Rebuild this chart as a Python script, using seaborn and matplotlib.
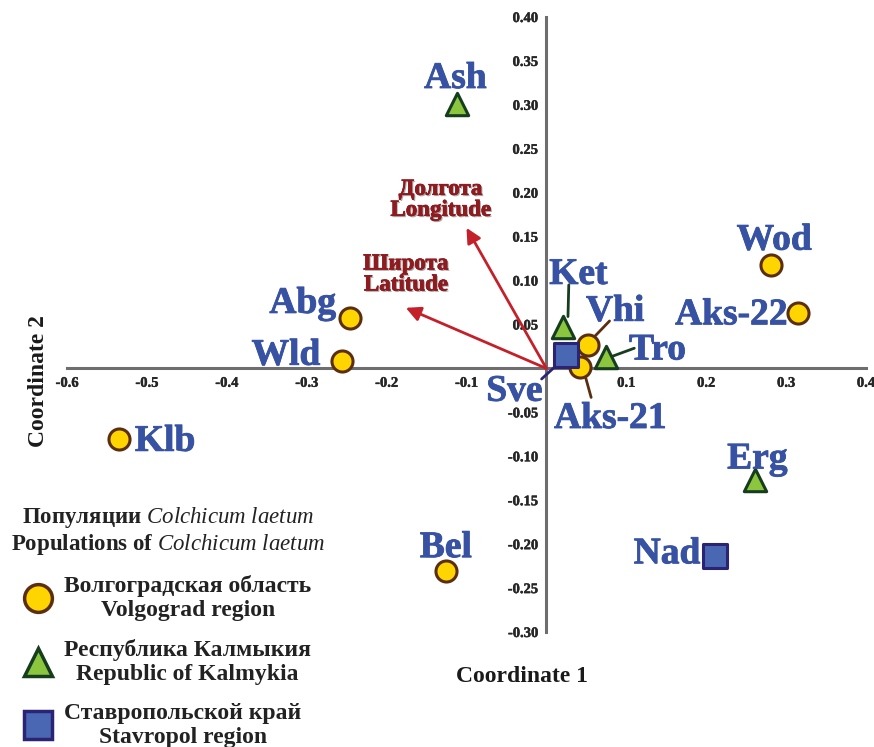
import matplotlib
matplotlib.use("Agg")
import matplotlib.pyplot as plt
import matplotlib.patheffects as pe
import seaborn as sns
import pandas as pd
from matplotlib.lines import Line2D

# ---------------- data ----------------
names = ["Ash", "Abg", "Wld", "Klb", "Bel", "Sve", "Ket", "Vhi", "Tro",
         "Aks-21", "Wod", "Aks-22", "Erg", "Nad"]
coord1 = [-0.112, -0.246, -0.256, -0.535, -0.126, 0.025, 0.021, 0.052, 0.074,
          0.042, 0.281, 0.315, 0.261, 0.211]
coord2 = [0.301, 0.057, 0.009, -0.080, -0.231, 0.015, 0.047, 0.027, 0.013,
          0.002, 0.118, 0.063, -0.127, -0.214]
region = ["Kalmykia", "Volgograd", "Volgograd", "Volgograd", "Volgograd",
          "Stavropol", "Kalmykia", "Volgograd", "Kalmykia", "Volgograd",
          "Volgograd", "Volgograd", "Kalmykia", "Stavropol"]
region_labels = {
    "Volgograd": "Волгоградская область\nVolgograd region",
    "Kalmykia": "Республика Калмыкия\nRepublic of Kalmykia",
    "Stavropol": "Ставропольской край\nStavropol region",
}
vector_names = ["Долгота\nLongitude", "Широта\nLatitude"]
vector_c1 = [-0.100, -0.176]
vector_c2 = [0.160, 0.069]
x_ticks = [-0.6, -0.5, -0.4, -0.3, -0.2, -0.1, 0.1, 0.2, 0.3, 0.4]
y_ticks = [-0.30, -0.25, -0.20, -0.15, -0.10, -0.05, 0.05, 0.10, 0.15, 0.20,
           0.25, 0.30, 0.35, 0.40]

df = pd.DataFrame({"name": names, "c1": coord1, "c2": coord2, "region": region})

# ---------------- style ----------------
sns.set_theme(style="white")
plt.rcParams["font.family"] = ["Liberation Serif", "DejaVu Serif"]
plt.rcParams["mathtext.fontset"] = "custom"
plt.rcParams["mathtext.it"] = "Liberation Serif:italic"
plt.rcParams["mathtext.rm"] = "Liberation Serif:bold"

styles = {
    "Volgograd": dict(marker="o", face="#FFD500", edge="#5A2E0E", s=230),
    "Kalmykia": dict(marker="^", face="#8CC63F", edge="#163E1E", s=260),
    "Stavropol": dict(marker="s", face="#4A67B4", edge="#2B2475", s=300),
}
label_blue = "#3852A3"
axis_grey = "#6E6E6E"


def heavy(color, w=1.0):
    return [pe.withStroke(linewidth=w, foreground=color)]


fig = plt.figure(figsize=(8.74, 7.47), dpi=100)
ax = fig.add_axes([67 / 874, 1 - 632 / 747, (866 - 67) / 874, (632 - 17) / 747])

handles = []
for reg in ["Volgograd", "Kalmykia", "Stavropol"]:
    st = styles[reg]
    sub = df[df["region"] == reg]
    sns.scatterplot(data=sub, x="c1", y="c2", ax=ax, marker=st["marker"],
                    color=st["face"], edgecolor=st["edge"], linewidth=2.2,
                    s=st["s"], zorder=5, legend=False)
    handles.append(Line2D([], [], marker=st["marker"], linestyle="none",
                          markerfacecolor=st["face"], markeredgecolor=st["edge"],
                          markeredgewidth=2.5, markersize=20))

# vectors
for nm, vx, vy in zip(vector_names, vector_c1, vector_c2):
    ax.annotate("", xy=(vx, vy), xytext=(0, 0),
                arrowprops=dict(arrowstyle="-|>", color="#C4202A", lw=2,
                                mutation_scale=22, shrinkA=0, shrinkB=0),
                zorder=3)
vec_label_pos = {"Долгота\nLongitude": (-0.1325, 0.192),
                 "Широта\nLatitude": (-0.176, 0.107)}
for nm in vector_names:
    px, py = vec_label_pos[nm]
    ax.text(px, py, nm, ha="center", va="center", color="#8E1B1F",
            fontsize=16.5, fontweight="bold", linespacing=1.0, zorder=6,
            path_effects=[pe.withSimplePatchShadow(offset=(1, -1), shadow_rgbFace="#555555", alpha=0.5),
                          pe.withStroke(linewidth=0.5, foreground="#8E1B1F")])

# point labels (offset positions in data units)
label_pos = {
    "Ash": (-0.114, 0.330, "center"),
    "Abg": (-0.305, 0.074, "center"),
    "Wld": (-0.326, 0.015, "center"),
    "Klb": (-0.515, -0.083, "left"),
    "Bel": (-0.126, -0.204, "center"),
    "Sve": (-0.040, -0.026, "center"),
    "Ket": (0.040, 0.107, "center"),
    "Vhi": (0.086, 0.065, "center"),
    "Tro": (0.139, 0.021, "center"),
    "Aks-21": (0.080, -0.057, "center"),
    "Wod": (0.285, 0.146, "center"),
    "Aks-22": (0.2315, 0.061, "center"),
    "Erg": (0.264, -0.103, "center"),
    "Nad": (0.151, -0.211, "center"),
}
for nm in names:
    tx, ty, ha = label_pos[nm]
    ax.text(tx, ty, nm, ha=ha, va="center", color=label_blue, fontsize=27,
            fontweight="bold", zorder=7, path_effects=heavy(label_blue, 0.6))

# leader lines
leaders = [
    ((0.027, 0.059), (0.028, 0.095), "#163E1E"),   # Ket
    ((0.060, 0.036), (0.079, 0.054), "#5A2E0E"),   # Vhi
    ((0.080, 0.013), (0.110, 0.023), "#163E1E"),   # Tro
    ((0.049, -0.010), (0.056, -0.033), "#5A2E0E"), # Aks-21
    ((0.012, 0.003), (-0.006, -0.012), "#2B2475"), # Sve
]
for (x0, y0), (x1, y1), c in leaders:
    ax.plot([x0, x1], [y0, y1], color=c, lw=2, zorder=4)

# axes through origin
ax.set_xlim(-0.6, 0.4)
ax.set_ylim(-0.30, 0.40)
for side in ["top", "right"]:
    ax.spines[side].set_visible(False)
for side in ["left", "bottom"]:
    ax.spines[side].set_position(("data", 0))
    ax.spines[side].set_color(axis_grey)
    ax.spines[side].set_linewidth(2.2)
ax.set_xticks(x_ticks)
ax.set_xticklabels([f"{v:.1f}" for v in x_ticks])
ax.set_yticks(y_ticks)
ax.set_yticklabels([f"{v:.2f}" for v in y_ticks])
ax.tick_params(axis="both", direction="out", length=4, width=1.5,
               color=axis_grey, labelsize=10.5, pad=2)
for t in ax.get_xticklabels() + ax.get_yticklabels():
    t.set_fontweight("bold")
    t.set_path_effects(heavy("#222222", 0.3))
ax.set_xlabel("")
ax.set_ylabel("")
ax.set_facecolor("white")

fig.text(522 / 874, 1 - 677 / 747, "Coordinate 1", ha="center", va="center",
         fontsize=17, fontweight="bold", color="#1a1a1a")
fig.text(38 / 874, 1 - 381 / 747, "Coordinate 2", ha="center", va="center",
         fontsize=17, fontweight="bold", rotation=90, color="#1a1a1a")

# legend
leg = fig.legend(handles, [region_labels[r] for r in ["Volgograd", "Kalmykia", "Stavropol"]],
                 title="Популяции $\\mathit{Colchicum\\ laetum}$\nPopulations of $\\mathit{Colchicum\\ laetum}$",
                 loc="upper left", bbox_to_anchor=(6 / 874, 1 - 500 / 747), frameon=False,
                 prop=dict(size=17, weight="bold"),
                 title_fontproperties=dict(size=16.5, weight="bold"),
                 labelspacing=0.75, handletextpad=0.5, borderpad=0.2,
                 borderaxespad=0, handlelength=1.2)
for t in leg.get_texts():
    t.set_multialignment("center")
    t.set_linespacing(1.2)
    t.set_color("#222222")
leg.get_title().set_multialignment("center")
leg.get_title().set_linespacing(1.15)
leg.get_title().set_color("#222222")

fig.savefig("out.png", dpi=100, facecolor="white")
